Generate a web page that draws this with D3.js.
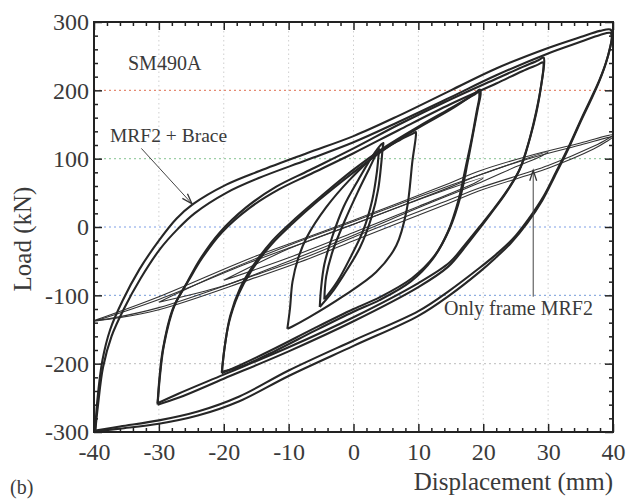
<!DOCTYPE html>
<html>
<head>
<meta charset="utf-8">
<script src="https://cdn.jsdelivr.net/npm/d3@7/dist/d3.min.js"></script>
<style>
  html, body { margin: 0; padding: 0; background: #fff; }
  svg { display: block; }
  text { font-family: "Liberation Serif", "Times New Roman", serif; fill: #3a3a3a; }
</style>
</head>
<body>
<svg id="chart" width="633" height="499"></svg>
<script>
// ---- Data ----
const xTicks = [-40, -30, -20, -10, 0, 10, 20, 30, 40];
const yTicks = [-300, -200, -100, 0, 100, 200, 300];
const xLabel = "Displacement (mm)";
const yLabel = "Load (kN)";
const specimenLabel = "SM490A";
const panelLabel = "(b)";
const bracedLabel = "MRF2 + Brace";
const frameLabel = "Only frame MRF2";

// MRF2 + Brace loops: [displacement mm, load kN]
const braced40a = [[-39.8,-296],[-39.5,-255],[-38.7,-195],[-37.5,-150],[-35.6,-108],[-33,-62],[-30,-20],[-27.3,12],[-24.8,33],[-19.6,62],[-14.5,82],[-7.2,108],[0,133],[7,163],[15,200],[22,232],[30,262],[35,278],[38,287],[39.6,289],
  [39.9,282],[39.6,265],[38.9,240],[37.9,215],[36.7,190],[35.2,160],[33.3,120],[31.2,80],[29.3,45],[27,12],[24.5,-18],[22,-40],[19.4,-60],[14.8,-93],[10,-123],[0,-166],[-10,-210],[-17.6,-248],[-24,-270],[-30,-283],[-36,-292],[-39.8,-298]];
const braced40b = [[-39.8,-298],[-39.4,-262],[-38.6,-205],[-37.3,-160],[-35.4,-120],[-32.8,-75],[-29.8,-32],[-27,-2],[-24.5,20],[-19.6,50],[-14.5,72],[-7.2,98],[0,124],[7,154],[15,190],[22,222],[30,254],[35,271],[38,281],[39.6,284],
  [39.8,277],[39.5,260],[38.7,234],[37.7,209],[36.5,184],[35,154],[33.1,114],[31,74],[29.1,39],[26.8,6],[24.3,-23],[21.8,-46],[19.4,-66],[14.8,-100],[10,-130],[0,-174],[-10,-218],[-17.6,-255],[-24,-276],[-30,-288],[-36,-295],[-39.8,-299]];
const braced30a = [[-30.2,-258],[-29.9,-220],[-29.4,-180],[-27.9,-121],[-25.7,-82],[-23.7,-48],[-20.7,-9],[-16.5,29],[-11.9,59],[-6.8,83],[0,115],[7,150],[15,187],[22,217],[26,234],[28.5,244],[29.3,248],
  [29.4,242],[28.9,205],[28.2,168],[27.2,130],[25.8,88],[23.8,55],[21.5,25],[19.4,0],[17,-28],[14.8,-52],[10,-82],[0,-132],[-10,-176],[-20,-216],[-27,-244],[-30.2,-258]];
const braced30b = [[-30.2,-260],[-29.8,-215],[-29.2,-172],[-27.6,-115],[-25.4,-78],[-23.3,-45],[-20.3,-8],[-16,28],[-11.5,55],[-6.5,78],[0,108],[7,142],[15,180],[22,210],[26,228],[28.5,238],[29.2,241],
  [29.3,236],[28.8,200],[28,162],[27,124],[25.5,82],[23.5,50],[21.2,20],[19.2,-5],[16.8,-34],[14.6,-58],[10,-88],[0,-138],[-10,-182],[-20,-222],[-27,-250],[-30.2,-260]];
const braced20a = [[-20.3,-214],[-19.9,-178],[-19.2,-140],[-17.8,-100],[-15.8,-65],[-12.8,-27],[-9.4,5],[-5.5,38],[0,80],[5,115],[10,145],[15,172],[18.5,194],[19.5,201],
  [19.6,195],[19.2,175],[18.5,140],[17.6,95],[16.5,45],[14.8,-3],[12.5,-42],[9,-75],[4,-103],[0,-120],[-6,-148],[-12,-177],[-17,-200],[-20.3,-214]];
const braced20b = [[-20.3,-212],[-19.8,-172],[-19,-130],[-17.5,-90],[-15.5,-57],[-12.5,-20],[-9,12],[-5,45],[0,84],[5,118],[10,147],[15,174],[18.5,193],[19.3,197],
  [19.4,191],[19,170],[18.3,133],[17.3,88],[16.2,40],[14.5,-8],[12.2,-47],[8.8,-80],[4,-107],[0,-124],[-6,-152],[-12,-181],[-17,-203],[-20.3,-212]];
const braced10 = [[-10.2,-149],[-9.8,-120],[-9.4,-80],[-8.5,-45],[-7.2,-15],[-4.2,29],[-0.6,69],[3.5,106],[7.1,127],[9.2,137],[9.6,139],
  [9.6,132],[9.1,98],[8.2,25],[6.6,-27],[3.5,-66],[-1.7,-102],[-6.8,-132],[-9.5,-146],[-10.2,-149]];
const braced05 = [[-5.2,-117],[-5,-90],[-4.5,-55],[-3.3,-15],[-1.5,30],[0.8,70],[2.8,102],[4.3,121],[4.6,123],
  [4.5,116],[4.3,95],[3.8,55],[2.8,15],[1,-30],[-1.5,-70],[-3.5,-98],[-5.2,-117]];
const braced04 = [[-4.5,-106],[-4.2,-72],[-3.2,-35],[-1.4,8],[0.6,50],[2.4,85],[3.7,110],[4,114],
  [3.9,108],[3.6,80],[2.9,40],[1.5,-5],[-0.5,-45],[-2.5,-80],[-4.5,-106]];

// Only frame MRF2 loops
const frame40a = [[-40,-137],[-30,-102],[-16,-46],[-6.8,-14],[0,10],[14.8,64],[19.4,82],[27,104],[35,123],[40,135],
  [39,128],[37,118],[30,90],[19.4,57],[14.8,40],[0,-15],[-6.8,-42],[-16,-73],[-30,-118],[-37,-133],[-40,-137]];
const frame40b = [[-40,-138],[-30,-106],[-16,-52],[-6.8,-20],[0,4],[14.8,58],[19.4,76],[27,100],[35,120],[40,132],
  [39,125],[37,114],[30,86],[19.4,53],[14.8,35],[0,-20],[-6.8,-46],[-16,-77],[-30,-121],[-37,-134],[-40,-138]];
const frame30 = [[-30,-110],[-20,-66],[-10,-27],[0,8],[10,44],[20,78],[30,110],
  [29,104],[25,88],[20,67],[10,28],[0,-12],[-10,-50],[-20,-86],[-30,-110]];
const frame20 = [[-20,-78],[-10,-32],[0,4],[10,40],[20,72],
  [19,66],[10,30],[0,-8],[-10,-45],[-20,-78]];

const bracedLoops = [braced40a, braced40b, braced30a, braced30b, braced20a, braced20b, braced10, braced05, braced04];
const frameLoops = [frame40a, frame40b, frame30, frame20];

// Annotation anchors in data units
const bracedArrow = {from: [-32.7, 115], to: [-24.9, 34]};
const frameArrow = {from: [27.7, -102], to: [27.7, 83]};

// ---- Layout ----
const svg = d3.select("#chart");
const W = 633, H = 499;
const x = d3.scaleLinear().domain([-40, 40]).range([94, 613]);
const y = d3.scaleLinear().domain([-300, 300]).range([432, 22]);
const serif = '"Liberation Serif", "Times New Roman", serif';

svg.append("rect").attr("width", W).attr("height", H).attr("fill", "#fff");

// grid lines (dotted)
const gridColorsY = {"-200": "#c9c9c9", "-100": "#8eaee0", "0": "#7f9fe6", "100": "#9dcfa6", "200": "#e58a72"};
svg.append("g").selectAll("line").data(xTicks.slice(1, -1)).join("line")
  .attr("x1", d => x(d)).attr("x2", d => x(d))
  .attr("y1", y(300)).attr("y2", y(-300))
  .attr("stroke", "#cfcfcf").attr("stroke-width", 1).attr("stroke-dasharray", "1.5,3");
svg.append("g").selectAll("line").data(yTicks.slice(1, -1)).join("line")
  .attr("x1", x(-40)).attr("x2", x(40))
  .attr("y1", d => y(d)).attr("y2", d => y(d))
  .attr("stroke", d => gridColorsY[String(d)]).attr("stroke-width", 1.2).attr("stroke-dasharray", "2,3");

// curves
const line = d3.line().x(d => x(d[0])).y(d => y(d[1])).curve(d3.curveCatmullRom.alpha(0.5));
const plot = svg.append("g");
plot.selectAll("path.frame").data(frameLoops).join("path").attr("class", "frame")
  .attr("d", line).attr("fill", "none").attr("stroke", "#333").attr("stroke-width", 1.1);
plot.selectAll("path.braced").data(bracedLoops).join("path").attr("class", "braced")
  .attr("d", line).attr("fill", "none").attr("stroke", "#262626").attr("stroke-width", 2.1);

// axes (ticks inward on all four sides)
const minorX = d3.range(-40, 41, 2).filter(v => v % 10 !== 0);
const minorY = d3.range(-300, 301, 20).filter(v => v % 100 !== 0);
const fmt = d => String(d);
function styleAxis(g) {
  g.attr("font-family", serif).attr("font-size", 24);
  g.select(".domain").remove();
  g.selectAll(".tick line").attr("stroke", "#222").attr("stroke-width", 1.5);
  g.selectAll(".tick text").attr("fill", "#3a3a3a")
    .style("font-family", serif).style("font-size", "24px");
}
svg.append("g").attr("transform", `translate(0,${y(-300)})`)
  .call(d3.axisBottom(x).tickValues(xTicks).tickSize(-8).tickPadding(11).tickFormat(fmt)).call(styleAxis);
svg.append("g").attr("transform", `translate(0,${y(-300)})`)
  .call(d3.axisBottom(x).tickValues(minorX).tickSize(-4).tickFormat("")).call(styleAxis);
svg.append("g").attr("transform", `translate(0,${y(300)})`)
  .call(d3.axisTop(x).tickValues(xTicks).tickSize(-8).tickFormat("")).call(styleAxis);
svg.append("g").attr("transform", `translate(0,${y(300)})`)
  .call(d3.axisTop(x).tickValues(minorX).tickSize(-4).tickFormat("")).call(styleAxis);
svg.append("g").attr("transform", `translate(${x(-40)},0)`)
  .call(d3.axisLeft(y).tickValues(yTicks).tickSize(-8).tickPadding(5).tickFormat(fmt)).call(styleAxis);
svg.append("g").attr("transform", `translate(${x(-40)},0)`)
  .call(d3.axisLeft(y).tickValues(minorY).tickSize(-4).tickFormat("")).call(styleAxis);
svg.append("g").attr("transform", `translate(${x(40)},0)`)
  .call(d3.axisRight(y).tickValues(yTicks).tickSize(-8).tickFormat("")).call(styleAxis);
svg.append("g").attr("transform", `translate(${x(40)},0)`)
  .call(d3.axisRight(y).tickValues(minorY).tickSize(-4).tickFormat("")).call(styleAxis);

// frame
svg.append("rect").attr("x", x(-40)).attr("y", y(300))
  .attr("width", x(40) - x(-40)).attr("height", y(-300) - y(300))
  .attr("fill", "none").attr("stroke", "#222").attr("stroke-width", 2);

// labels
function label(t) { return t.style("font-family", serif); }
label(svg.append("text").attr("x", 613).attr("y", 490).attr("text-anchor", "end")
  .style("font-size", "25px").text(xLabel));
label(svg.append("text").attr("transform", "translate(31,239) rotate(-90)").attr("text-anchor", "middle")
  .style("font-size", "25px").text(yLabel));
label(svg.append("text").attr("x", 10).attr("y", 494).style("font-size", "20px").text(panelLabel));
label(svg.append("text").attr("x", 128).attr("y", 70).style("font-size", "20px").text(specimenLabel));
label(svg.append("text").attr("x", 110).attr("y", 142).style("font-size", "19.5px").text(bracedLabel));
label(svg.append("text").attr("x", 593).attr("y", 315).attr("text-anchor", "end").style("font-size", "20px").text(frameLabel));

// arrows
function arrow(a) {
  const x1 = x(a.from[0]), y1 = y(a.from[1]), x2 = x(a.to[0]), y2 = y(a.to[1]);
  const ang = Math.atan2(y2 - y1, x2 - x1);
  const L = 11, spread = 0.32;
  svg.append("line").attr("x1", x1).attr("y1", y1).attr("x2", x2).attr("y2", y2)
    .attr("stroke", "#444").attr("stroke-width", 1);
  const p = [[x2 - L * Math.cos(ang - spread), y2 - L * Math.sin(ang - spread)], [x2, y2],
             [x2 - L * Math.cos(ang + spread), y2 - L * Math.sin(ang + spread)]];
  svg.append("path").attr("d", d3.line()(p)).attr("fill", "none").attr("stroke", "#333").attr("stroke-width", 1.3);
}
arrow(bracedArrow);
arrow(frameArrow);
</script>
</body>
</html>
